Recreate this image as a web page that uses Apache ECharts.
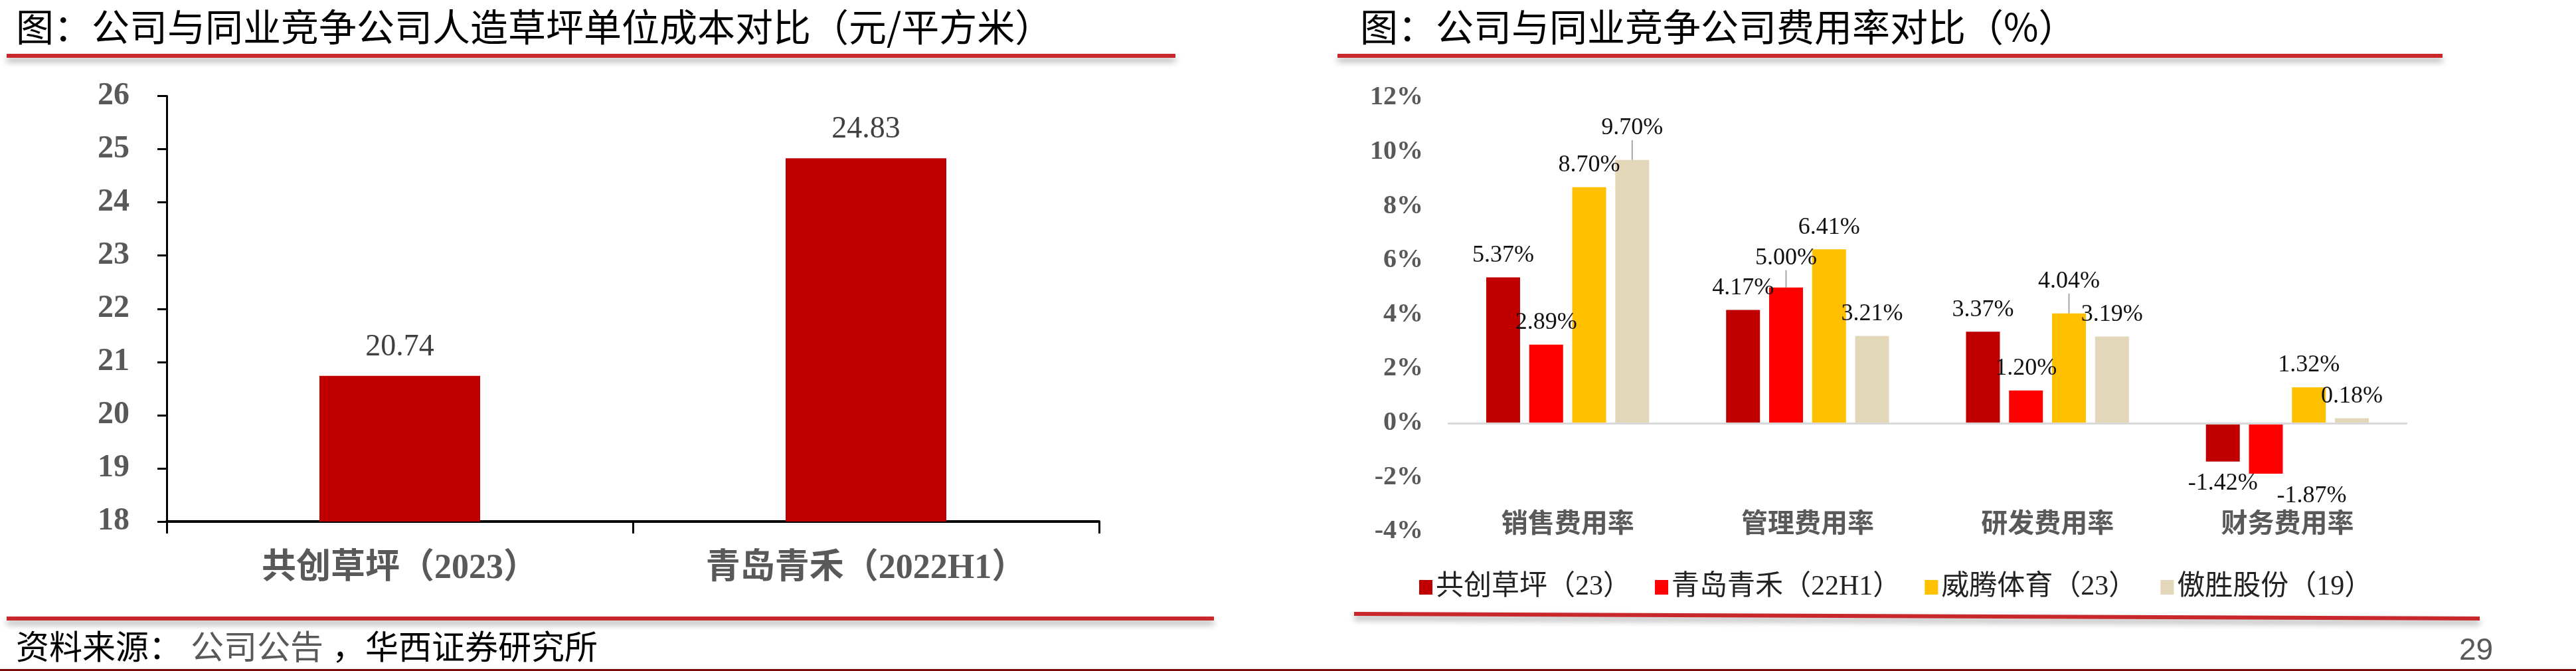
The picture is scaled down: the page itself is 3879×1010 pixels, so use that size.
<!DOCTYPE html>
<html>
<head>
<meta charset="utf-8">
<title>人造草坪成本与费用率对比</title>
<script src="https://cdn.jsdelivr.net/npm/echarts@6/dist/echarts.min.js"></script>
<style>
  html, body { margin: 0; padding: 0; background: #fff; }
  #main { width: 3879px; height: 1010px; }
</style>
</head>
<body>
<div id="main"></div>
<script>
// 左图：人造草坪单位成本（元/平方米）
var costCategories = ["共创草坪（2023）", "青岛青禾（2022H1）"];
var costValues = [20.74, 24.83];
var costAxisMin = 18;
var costAxisMax = 26;

// 右图：费用率（%）
var rateCategories = ["销售费用率", "管理费用率", "研发费用率", "财务费用率"];
var rateCompanies = ["共创草坪（23）", "青岛青禾（22H1）", "威腾体育（23）", "傲胜股份（19）"];
var gongchuang = [5.37, 4.17, 3.37, -1.42];
var qingdao = [2.89, 5.00, 1.20, -1.87];
var weiteng = [8.70, 6.41, 4.04, 1.32];
var aosheng = [9.70, 3.21, 3.19, 0.18];
var rateAxisMin = -4;
var rateAxisMax = 12;

var rateColors = ["#C00000", "#FF0000", "#FFC000", "#E3D7BA"];
var serif = "'Liberation Serif', 'Noto Sans CJK SC'";
var cjk = "'Noto Sans CJK SC'";

// labels that were pushed away from their bar in the original
var movedLabels = {
  "1-1": { dy: -11, line: true },
  "2-2": { dy: -15, line: true },
  "3-0": { dy: -15, line: true },
  "1-3": { dx: 69 }
};

var rateSeries = [gongchuang, qingdao, weiteng, aosheng].map(function (vals, i) {
  return {
    name: rateCompanies[i],
    type: "bar",
    xAxisIndex: 1,
    yAxisIndex: 1,
    barWidth: 51,
    barGap: "27%",
    itemStyle: { color: rateColors[i] },
    data: vals.map(function (v, j) {
      var m = movedLabels[i + "-" + j];
      if (m && m.line) {
        return { value: v, labelLine: { show: true, lineStyle: { color: "#A6A6A6", width: 2 } } };
      }
      return v;
    }),
    label: {
      show: true,
      position: "outside",
      distance: 15,
      fontSize: 36,
      fontFamily: serif,
      color: "#111",
      formatter: function (p) { return p.value.toFixed(2) + "%"; }
    },
    labelLayout: function (p) {
      var m = movedLabels[i + "-" + p.dataIndex];
      if (!m) return {};
      return { dx: m.dx || 0, dy: m.dy || 0 };
    },
    markLine: i === 0 ? {
      silent: true,
      symbol: "none",
      label: { show: false },
      lineStyle: { color: "#D9D9D9", width: 3, type: "solid" },
      data: [{ yAxis: 0 }]
    } : undefined
  };
});

var chart = echarts.init(document.getElementById("main"));

var option = {
  animation: false,
  backgroundColor: "#fff",
  grid: [
    { left: 251, top: 144.5, width: 1404, height: 640.5 },
    { left: 2180, top: 147, width: 1445, height: 653 }
  ],
  xAxis: [
    {
      type: "category",
      gridIndex: 0,
      data: costCategories,
      axisLine: { lineStyle: { color: "#000", width: 4 } },
      axisTick: { show: true, length: 18, lineStyle: { color: "#000", width: 3 } },
      axisLabel: {
        margin: 46,
        fontSize: 52,
        fontWeight: "bold",
        fontFamily: serif,
        color: "#595959"
      }
    },
    {
      type: "category",
      gridIndex: 1,
      data: rateCategories,
      axisLine: { show: false, onZero: false },
      axisTick: { show: false },
      axisLabel: {
        margin: -29,
        fontSize: 40,
        fontWeight: "bold",
        fontFamily: serif,
        color: "#595959"
      }
    }
  ],
  yAxis: [
    {
      type: "value",
      gridIndex: 0,
      min: costAxisMin,
      max: costAxisMax,
      interval: 1,
      axisLine: { show: true, lineStyle: { color: "#000", width: 3 } },
      axisTick: { show: true, length: 14, lineStyle: { color: "#000", width: 3 } },
      splitLine: { show: false },
      axisLabel: {
        margin: 56,
        fontSize: 48,
        fontWeight: "bold",
        fontFamily: serif,
        color: "#595959"
      }
    },
    {
      type: "value",
      gridIndex: 1,
      min: rateAxisMin,
      max: rateAxisMax,
      interval: 2,
      axisLine: { show: false },
      axisTick: { show: false },
      splitLine: { show: false },
      axisLabel: {
        margin: 37,
        fontSize: 40,
        fontWeight: "bold",
        fontFamily: serif,
        color: "#595959",
        formatter: "{value}%"
      }
    }
  ],
  legend: {
    data: rateCompanies,
    left: 2132,
    top: 858,
    itemWidth: 20,
    itemHeight: 22,
    itemGap: 36,
    icon: "rect",
    textStyle: { fontSize: 42, fontFamily: serif, color: "#222" }
  },
  series: [
    {
      name: "单位成本",
      type: "bar",
      xAxisIndex: 0,
      yAxisIndex: 0,
      barWidth: 242,
      itemStyle: { color: "#C00000" },
      data: costValues,
      label: {
        show: true,
        position: "top",
        distance: 20,
        fontSize: 46,
        fontFamily: serif,
        color: "#404040"
      }
    }
  ].concat(rateSeries),
  graphic: {
    elements: [
      {
        type: "text", x: 24, y: 40,
        style: {
          text: "图：公司与同业竞争公司人造草坪单位成本对比（元/平方米）",
          fontSize: 57, fontFamily: cjk, fill: "#000", verticalAlign: "middle"
        }
      },
      {
        type: "text", x: 2048, y: 40,
        style: {
          text: "图：公司与同业竞争公司费用率对比（%）",
          fontSize: 57, fontFamily: cjk, fill: "#000", verticalAlign: "middle"
        }
      },
      {
        type: "rect", shape: { x: 10, y: 81, width: 1760, height: 6 },
        style: { fill: "#C8282C", shadowBlur: 10, shadowColor: "rgba(0,0,0,0.35)", shadowOffsetY: 6 }
      },
      {
        type: "rect", shape: { x: 2014, y: 81, width: 1664, height: 6 },
        style: { fill: "#C8282C", shadowBlur: 10, shadowColor: "rgba(0,0,0,0.35)", shadowOffsetY: 6 }
      },
      {
        type: "rect", shape: { x: 10, y: 928, width: 1818, height: 6 },
        style: { fill: "#C8282C", shadowBlur: 10, shadowColor: "rgba(0,0,0,0.35)", shadowOffsetY: 6 }
      },
      {
        type: "line", shape: { x1: 2039, y1: 924, x2: 3734, y2: 931 },
        style: { stroke: "#C8282C", lineWidth: 6, shadowBlur: 10, shadowColor: "rgba(0,0,0,0.35)", shadowOffsetY: 6 }
      },
      {
        type: "text", x: 24, y: 973,
        style: { text: "资料来源：", fontSize: 50, fontFamily: cjk, fill: "#000", verticalAlign: "middle" }
      },
      {
        type: "text", x: 287, y: 973,
        style: { text: "公司公告", fontSize: 50, fontFamily: cjk, fill: "#595959", verticalAlign: "middle" }
      },
      {
        type: "text", x: 500, y: 973,
        style: { text: "，华西证券研究所", fontSize: 50, fontFamily: cjk, fill: "#000", verticalAlign: "middle" }
      },
      {
        type: "text", x: 3703, y: 980,
        style: {
          text: "29", fontSize: 46, fontFamily: "'Liberation Sans'",
          fill: "#595959", verticalAlign: "middle"
        }
      },
      {
        type: "rect", shape: { x: 0, y: 1007, width: 3879, height: 3 },
        style: { fill: "#7B0A0A" }
      }
    ]
  }
};

chart.setOption(option);
</script>
</body>
</html>
